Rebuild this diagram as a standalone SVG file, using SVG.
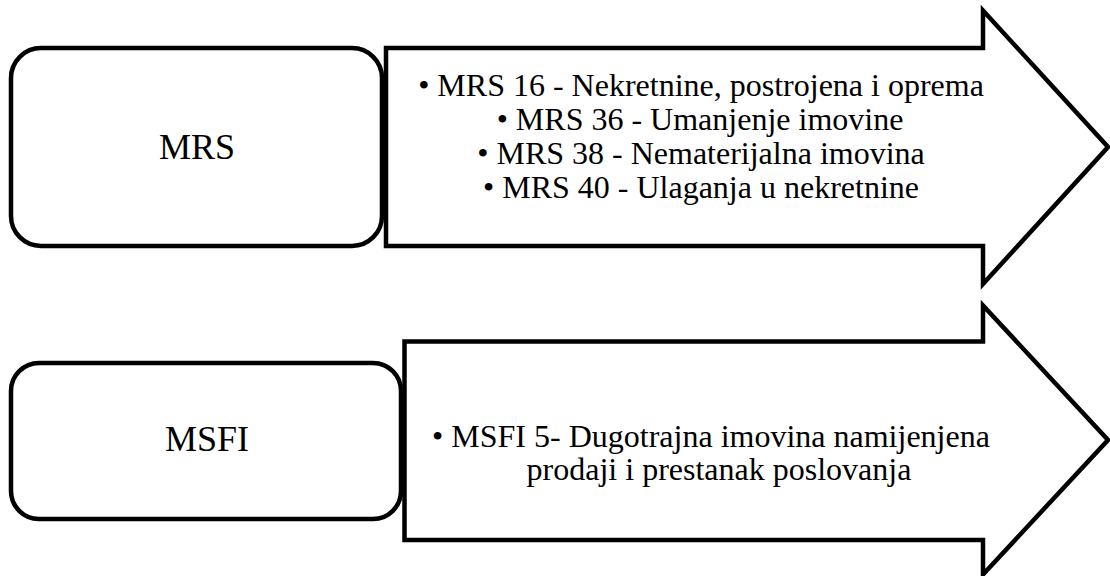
<svg xmlns="http://www.w3.org/2000/svg" width="1110" height="576" viewBox="0 0 1110 576">
<style>
.box{fill:#fff;stroke:#000;stroke-width:4.5}
.arr{fill:#fff;stroke:#000;stroke-width:4.5;stroke-linejoin:miter;stroke-miterlimit:10}
.lbl{font-size:36px;fill:#000;text-anchor:middle}
.txt{font-size:32px;fill:#000;text-anchor:middle}
</style>
<rect width="1110" height="576" fill="#fff"/>
<g font-family="'Times New Roman', 'Liberation Serif', serif">
<g id="mrs">
<rect class="box" x="11" y="48" width="371" height="198" rx="30" ry="30"/>
<text class="lbl" x="197" y="159">MRS</text>
</g>
<g id="mrs-arrow">
<path class="arr" d="M386,48 H983 V10.5 L1108,147 L983,284 V246 H386 Z"/>
<text class="txt" x="701" y="96">• MRS 16 - Nekretnine, postrojena i oprema</text>
<text class="txt" x="700" y="130">• MRS 36 - Umanjenje imovine</text>
<text class="txt" x="701" y="164">• MRS 38 - Nematerijalna imovina</text>
<text class="txt" x="701" y="198">• MRS 40 - Ulaganja u nekretnine</text>
</g>
<g id="msfi">
<rect class="box" x="11" y="363" width="390" height="156" rx="28" ry="28"/>
<text class="lbl" x="207" y="451">MSFI</text>
</g>
<g id="msfi-arrow">
<path class="arr" d="M404.5,341.5 H983 V305.5 L1108,440 L983,574.5 V540 H404.5 Z"/>
<text class="txt" x="711" y="447">• MSFI 5- Dugotrajna imovina namijenjena</text>
<text class="txt" x="719" y="480">prodaji i prestanak poslovanja</text>
</g>
</g>
<g id="connectors"></g>
</svg>
